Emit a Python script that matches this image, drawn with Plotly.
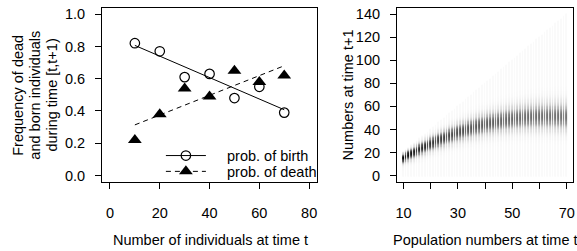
import numpy as np
import plotly.graph_objects as go
from math import comb

# ---- data ----
pop_sizes = [10, 20, 30, 40, 50, 60, 70]
prob_birth = [0.82, 0.77, 0.61, 0.63, 0.48, 0.55, 0.39]
prob_death = [0.22, 0.38, 0.54, 0.49, 0.65, 0.58, 0.62]

left_xticks = [0, 20, 40, 60, 80]
left_yticks = [0.0, 0.2, 0.4, 0.6, 0.8, 1.0]
right_xticks = [10, 20, 30, 40, 50, 60, 70]
right_xticktext = ["10", "", "30", "", "50", "", "70"]
right_yticks = [0, 20, 40, 60, 80, 100, 120, 140]

# ---- linear fits (as drawn in the left panel) ----
fb = np.polyfit(pop_sizes, prob_birth, 1)
fd = np.polyfit(pop_sizes, prob_death, 1)
fit_x = [min(pop_sizes), max(pop_sizes)]

# ---- predicted distribution of N(t+1) for each N(t) ----
N_grid = np.arange(10, 71)
y_grid = np.arange(0, 141)

def binom_pmf(n, p):
    return np.array([comb(n, k) * p**k * (1 - p)**(n - k) for k in range(n + 1)])

Z = np.full((len(y_grid), len(N_grid)), np.nan)
for j, N in enumerate(N_grid):
    b = float(np.clip(np.polyval(fb, N), 0, 1))
    d = float(np.clip(np.polyval(fd, N), 0, 1))
    pb = binom_pmf(int(N), b)          # births 0..N
    pd_ = binom_pmf(int(N), d)         # deaths 0..N
    ps = pd_[::-1]                     # survivors 0..N
    pn = np.convolve(ps, pb)           # N(t+1) 0..2N
    Z[: len(pn), j] = pn
zmax = np.nanmax(Z)
Zs = (Z / zmax) ** 0.5

W, H = 577, 251
def px(x):
    return x / W
def py(y):
    return 1 - y / H

FONT = "Liberation Sans, Arial, Helvetica, sans-serif"
FS = 14.5
PAD = "\u00a0" * 4

fig = go.Figure()

# left panel
fig.add_trace(go.Scatter(x=pop_sizes, y=prob_birth, mode="markers",
                         marker=dict(symbol="circle-open", size=9.5, color="black",
                                     line=dict(width=1.2, color="black")),
                         showlegend=False, xaxis="x", yaxis="y", hoverinfo="skip"))
fig.add_trace(go.Scatter(x=pop_sizes, y=prob_death, mode="markers",
                         marker=dict(symbol="triangle-up", size=12, color="black"),
                         showlegend=False, xaxis="x", yaxis="y", hoverinfo="skip"))
fig.add_trace(go.Scatter(x=fit_x, y=np.polyval(fb, fit_x), mode="lines",
                         line=dict(color="black", width=1),
                         showlegend=False, xaxis="x", yaxis="y", hoverinfo="skip"))
fig.add_trace(go.Scatter(x=fit_x, y=np.polyval(fd, fit_x), mode="lines",
                         line=dict(color="black", width=1, dash="5px,4px"),
                         showlegend=False, xaxis="x", yaxis="y", hoverinfo="skip"))
# legend-only entries
fig.add_trace(go.Scatter(x=[None], y=[None], mode="lines+markers", name=PAD + "prob. of birth",
                         line=dict(color="black", width=1),
                         marker=dict(symbol="circle-open", size=9.5, color="black",
                                     line=dict(width=1.2, color="black")),
                         xaxis="x", yaxis="y", legend="legend"))
fig.add_trace(go.Scatter(x=[None], y=[None], mode="lines+markers", name=PAD + "prob. of death",
                         line=dict(color="black", width=1, dash="5px,4px"),
                         marker=dict(symbol="triangle-up", size=12, color="black"),
                         xaxis="x", yaxis="y", legend="legend2"))

# right panel
fig.add_trace(go.Heatmap(x=N_grid, y=y_grid, z=Zs, xgap=1,
                         colorscale=[[0, "#fafafa"], [0.3, "#cdcdcd"], [0.6, "#707070"], [1, "#000000"]],
                         zmin=0, zmax=1, showscale=False, hoverinfo="skip",
                         xaxis="x2", yaxis="y2"))

ax_common = dict(showline=True, linecolor="black", linewidth=1, mirror=True,
                 ticks="outside", ticklen=6, tickwidth=1, tickcolor="black",
                 showgrid=False, zeroline=False,
                 tickfont=dict(family=FONT, size=FS, color="black"))

ydom = [py(183.2), py(6.8)]
leg_common = dict(xanchor="left", yanchor="middle", bgcolor="rgba(0,0,0,0)",
                  borderwidth=0, itemwidth=40, itemclick=False,
                  font=dict(family=FONT, size=FS, color="black"))
fig.update_layout(
    width=W, height=H, margin=dict(l=0, r=0, t=0, b=0),
    paper_bgcolor="white", plot_bgcolor="white",
    font=dict(family=FONT, size=FS, color="black"),
    xaxis=dict(domain=[px(100.7), px(317.3)], range=[-3.2, 83.2], tickvals=left_xticks,
               ticklabelstandoff=12, anchor="y", **ax_common),
    yaxis=dict(domain=ydom, range=[-0.04, 1.04], tickvals=left_yticks,
               tickformat=".1f", ticklabelstandoff=7, anchor="x", **ax_common),
    xaxis2=dict(domain=[px(397.7), px(575.3)], range=[7.6, 72.4], tickvals=right_xticks,
                ticktext=right_xticktext, ticklabelstandoff=12, anchor="y2", **ax_common),
    yaxis2=dict(domain=ydom, range=[-5.6, 145.6], tickvals=right_yticks,
                ticklabelstandoff=7, anchor="x2", **ax_common),
    legend=dict(x=px(160), y=py(156.5), **leg_common),
    legend2=dict(x=px(160), y=py(172.5), **leg_common),
    annotations=[
        dict(text="Frequency of dead", x=px(16), y=py(95), xref="paper", yref="paper",
             textangle=-90, showarrow=False, xanchor="center", yanchor="middle"),
        dict(text="and born individuals", x=px(33), y=py(95), xref="paper", yref="paper",
             textangle=-90, showarrow=False, xanchor="center", yanchor="middle"),
        dict(text="during time [t,t+1)", x=px(50), y=py(95), xref="paper", yref="paper",
             textangle=-90, showarrow=False, xanchor="center", yanchor="middle"),
        dict(text="Number of individuals at time t", x=px(210), y=py(242), xref="paper",
             yref="paper", showarrow=False, xanchor="center", yanchor="middle"),
        dict(text="Numbers at time t+1", x=px(348), y=py(95), xref="paper", yref="paper",
             textangle=-90, showarrow=False, xanchor="center", yanchor="middle"),
        dict(text="Population numbers at time t", x=px(486.5), y=py(242), xref="paper",
             yref="paper", showarrow=False, xanchor="center", yanchor="middle"),
    ],
)

fig.write_html("out.html", config={"displayModeBar": False},
               post_script="document.body.style.margin='0px';document.body.style.padding='0px';")
